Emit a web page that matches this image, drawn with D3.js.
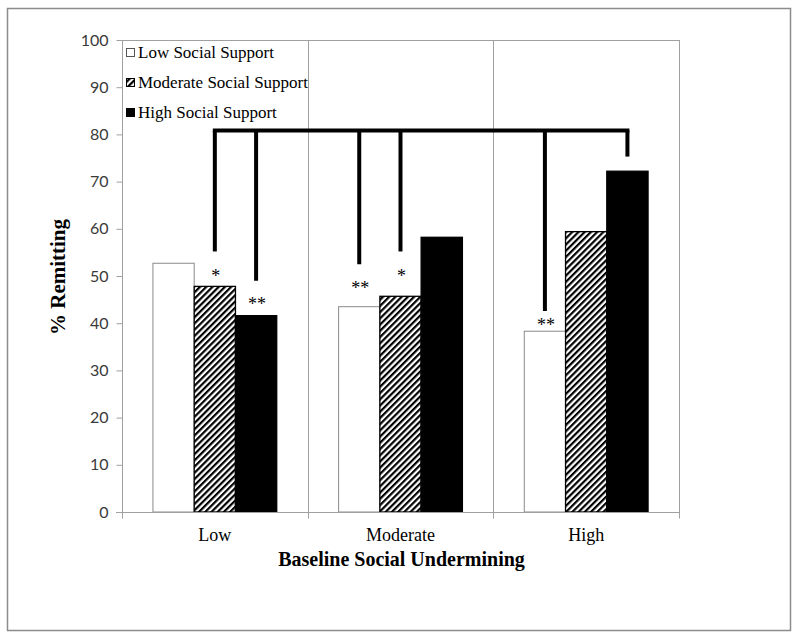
<!DOCTYPE html>
<html>
<head>
<meta charset="utf-8">
<script src="https://cdn.jsdelivr.net/npm/d3@7"></script>
<style>
  html, body { margin: 0; padding: 0; background: #fff; }
  svg { display: block; }
</style>
</head>
<body>
<svg id="chart" width="800" height="640"></svg>
<script>
// ---- Data ----
const categories = ["Low", "Moderate", "High"];
const seriesNames = ["Low Social Support", "Moderate Social Support", "High Social Support"];
const lowSupport = [52.7, 43.5, 38.3];
const moderateSupport = [47.8, 45.7, 59.4];
const highSupport = [41.6, 58.2, 72.2];
const yTicks = [0, 10, 20, 30, 40, 50, 60, 70, 80, 90, 100];

// significance markers: group, series index, label, level (value units)
const sigGroups = ["Low", "Low", "Moderate", "Moderate", "High"];
const sigSeries = [1, 2, 0, 1, 0];
const sigLabels = ["*", "**", "**", "*", "**"];
const sigLevels = [50.6, 44.7, 48.1, 50.6, 40.3];

// bracket: top level and drops (group, series, bottom level)
const bracketTop = 80.8;
const dropGroups = ["Low", "Low", "Moderate", "Moderate", "High", "High"];
const dropSeries = [1, 2, 0, 1, 0, 2];
const dropBottoms = [55.2, 49.0, 52.5, 55.2, 42.6, 75.3];

// ---- Layout ----
const svg = d3.select("#chart");
const plot = { left: 122, right: 679, top: 40, bottom: 512 };
const serif = "'Liberation Serif', 'Times New Roman', serif";
const sans = "Lato, 'Open Sans', sans-serif";

const seriesValues = [lowSupport, moderateSupport, highSupport];

const x = d3.scaleBand().domain(categories).range([plot.left, plot.right]).padding(0);
const inner = d3.scaleBand().domain([0, 1, 2])
  .range([0, x.bandwidth()])
  .paddingInner(0)
  .paddingOuter(0.75);
const y = d3.scaleLinear().domain([0, 100]).range([plot.bottom, plot.top]);

const defs = svg.append("defs");
const pat = defs.append("pattern")
  .attr("id", "hatch")
  .attr("patternUnits", "userSpaceOnUse")
  .attr("width", 4.4).attr("height", 4.4)
  .attr("patternTransform", "rotate(45)");
pat.append("rect").attr("width", 4.4).attr("height", 4.4).attr("fill", "#fff");
pat.append("line").attr("x1", 1.1).attr("y1", 0).attr("x2", 1.1).attr("y2", 4.4)
  .attr("stroke", "#000").attr("stroke-width", 2.2);

const fills = ["#fff", "url(#hatch)", "#000"];
const strokes = ["#8a8a8a", "#000", "#000"];

// Outer frame
svg.append("rect").attr("x", 7.5).attr("y", 8.5).attr("width", 783).attr("height", 622)
  .attr("fill", "#fff").attr("stroke", "#8c8c8c").attr("stroke-width", 1.5);

// Vertical category separators (gridlines)
const gridG = svg.append("g");
categories.slice(1).forEach(c => {
  gridG.append("line")
    .attr("x1", Math.round(x(c)) + 0.5).attr("x2", Math.round(x(c)) + 0.5)
    .attr("y1", plot.top).attr("y2", plot.bottom)
    .attr("stroke", "#a0a0a0").attr("stroke-width", 1);
});
// Plot border right & top
svg.append("line").attr("x1", plot.right + 0.5).attr("x2", plot.right + 0.5)
  .attr("y1", plot.top).attr("y2", plot.bottom).attr("stroke", "#a0a0a0");
svg.append("line").attr("x1", plot.left).attr("x2", plot.right + 1)
  .attr("y1", plot.top + 0.5).attr("y2", plot.top + 0.5).attr("stroke", "#a0a0a0");

// Bars
const barsG = svg.append("g");
categories.forEach((c, ci) => {
  seriesValues.forEach((vals, si) => {
    const v = vals[ci];
    barsG.append("rect")
      .attr("x", x(c) + inner(si))
      .attr("y", y(v))
      .attr("width", inner.bandwidth())
      .attr("height", y(0) - y(v))
      .attr("fill", fills[si])
      .attr("stroke", strokes[si])
      .attr("stroke-width", si === 0 ? 1 : 1.3);
  });
});

// Y axis
const yAxis = d3.axisLeft(y).tickValues(yTicks).tickSize(6).tickPadding(8);
const yG = svg.append("g").attr("transform", `translate(${plot.left + 0.5},0)`).call(yAxis);
yG.select(".domain").attr("stroke", "#a0a0a0").attr("d", `M-6,${plot.top}H0V${plot.bottom}H-6`);
yG.select(".domain").attr("d", `M0,${plot.top}V${plot.bottom}`);
yG.selectAll(".tick line").attr("stroke", "#a0a0a0");
yG.selectAll(".tick text").attr("font-family", sans).attr("font-size", 16).attr("fill", "#3a3a3a");

// X axis
const xAxis = d3.axisBottom(x).tickSize(0).tickPadding(16);
const xG = svg.append("g").attr("transform", `translate(0,${plot.bottom + 0.5})`).call(xAxis);
xG.select(".domain").attr("stroke", "#a0a0a0").attr("d", `M${plot.left - 6},0H${plot.right + 1}`);
xG.selectAll(".tick text").attr("font-family", serif).attr("font-size", 18).attr("fill", "#000");
// boundary tick marks
const bounds = categories.map(c => x(c)).concat([x(categories[categories.length - 1]) + x.bandwidth()]);
bounds.forEach(b => {
  xG.append("line").attr("x1", Math.round(b) + 0.5).attr("x2", Math.round(b) + 0.5)
    .attr("y1", 0).attr("y2", 6).attr("stroke", "#a0a0a0");
});

// Axis titles
svg.append("text")
  .attr("x", (plot.left + plot.right) / 2 + 1).attr("y", 566)
  .attr("text-anchor", "middle")
  .attr("font-family", serif).attr("font-weight", "bold").attr("font-size", 20)
  .text("Baseline Social Undermining");
svg.append("text")
  .attr("transform", "translate(65,277) rotate(-90)")
  .attr("text-anchor", "middle")
  .attr("font-family", serif).attr("font-weight", "bold").attr("font-size", 21)
  .text("% Remitting");

// Bracket
const bx = (g, s) => x(g) + inner(s) + inner.bandwidth() / 2;
const brG = svg.append("g").attr("stroke", "#000").attr("stroke-width", 4).attr("fill", "none");
const dropXs = dropGroups.map((g, i) => bx(g, dropSeries[i]));
brG.append("line")
  .attr("x1", d3.min(dropXs) - 2).attr("x2", d3.max(dropXs) + 2)
  .attr("y1", y(bracketTop)).attr("y2", y(bracketTop));
dropGroups.forEach((g, i) => {
  brG.append("line")
    .attr("x1", dropXs[i]).attr("x2", dropXs[i])
    .attr("y1", y(bracketTop)).attr("y2", y(dropBottoms[i]));
});

// Significance stars
sigGroups.forEach((g, i) => {
  svg.append("text")
    .attr("x", bx(g, sigSeries[i]) + 1)
    .attr("y", y(sigLevels[i]) + 9)
    .attr("text-anchor", "middle")
    .attr("font-family", serif).attr("font-size", 18)
    .text(sigLabels[i]);
});

// Legend
const legG = svg.append("g").attr("transform", `translate(126,0)`);
const legRows = [52, 82, 112];
seriesNames.forEach((name, i) => {
  legG.append("rect")
    .attr("x", 0.5).attr("y", legRows[i] - 3.5)
    .attr("width", 8).attr("height", 8)
    .attr("fill", fills[i])
    .attr("stroke", i === 0 ? "#555" : "#000").attr("stroke-width", 1);
  legG.append("text")
    .attr("x", 12).attr("y", legRows[i] + 5.5)
    .attr("font-family", serif).attr("font-size", 17)
    .text(name);
});
</script>
</body>
</html>
